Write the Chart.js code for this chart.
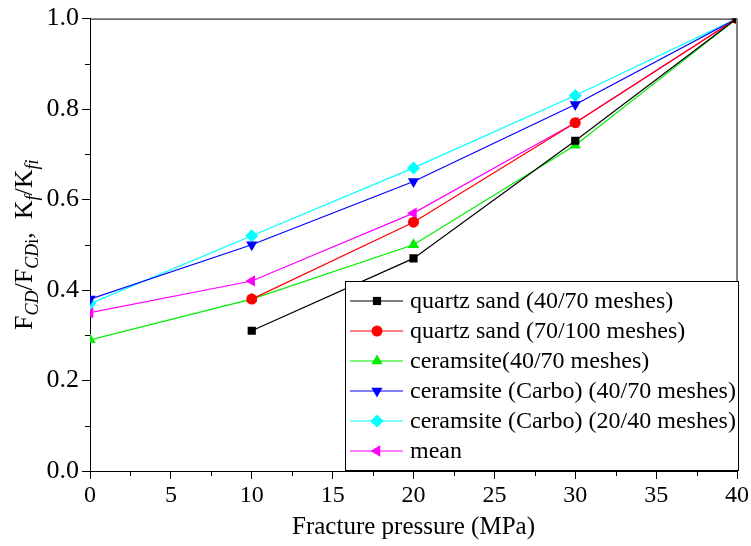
<!DOCTYPE html>
<html>
<head>
<meta charset="utf-8">
<script src="https://cdn.jsdelivr.net/npm/chart.js@4/dist/chart.umd.min.js"></script>
<style>
  body { margin: 0; background: #fff; }
  #wrap { width: 751px; height: 546px; }
</style>
</head>
<body>
<div id="wrap"><canvas id="lineChart" width="751" height="546"></canvas></div>
<script>
const pressures = [0, 10, 20, 30, 40];
const quartz4070 = [null, 0.31, 0.47, 0.73, 1.0];
const quartz70100 = [null, 0.38, 0.55, 0.77, 1.0];
const ceramsite4070 = [0.29, 0.38, 0.50, 0.72, 1.0];
const carbo4070 = [0.38, 0.50, 0.64, 0.81, 1.0];
const carbo2040 = [0.37, 0.52, 0.67, 0.83, 1.0];
const meanVals = [0.35, 0.42, 0.57, 0.77, 1.0];
const seriesNames = [
    'quartz sand (40/70 meshes)',
    'quartz sand (70/100 meshes)',
    'ceramsite(40/70 meshes)',
    'ceramsite (Carbo) (40/70 meshes)',
    'ceramsite (Carbo) (20/40 meshes)',
    'mean'
];

const serif = "'Liberation Serif', 'Times New Roman', serif";

function series(label, values, color, style, rot, radius) {
    return {
        label: label,
        data: values.map((v, i) => ({ x: pressures[i], y: v })),
        borderColor: color,
        backgroundColor: color,
        borderWidth: 1.2,
        pointStyle: style,
        rotation: rot,
        pointRadius: radius,
        pointBorderWidth: 0,
        spanGaps: true,
        tension: 0
    };
}

// frame, minor ticks, y title with subscripts, legend box inside the plot
const extras = {
    id: 'extras',
    afterDraw(chart) {
        const ctx = chart.ctx;
        const a = chart.chartArea;
        const xs = chart.scales.x, ys = chart.scales.y;
        ctx.save();
        ctx.lineWidth = 1;
        ctx.strokeStyle = '#000';
        ctx.beginPath();
        ctx.moveTo(a.left, a.top + 0.5);
        ctx.lineTo(a.right, a.top + 0.5);
        ctx.stroke();
        ctx.strokeStyle = '#808080';
        ctx.lineWidth = 2;
        ctx.beginPath();
        ctx.moveTo(a.right, a.top);
        ctx.lineTo(a.right, a.bottom);
        ctx.stroke();

        ctx.strokeStyle = '#000';
        ctx.lineWidth = 1;
        for (let v = 2.5; v < 40; v += 5) {
            const px = Math.round(xs.getPixelForValue(v)) + 0.5;
            ctx.beginPath();
            ctx.moveTo(px, a.bottom);
            ctx.lineTo(px, a.bottom + 5);
            ctx.stroke();
        }
        for (let v = 0.1; v < 1; v += 0.2) {
            const py = Math.round(ys.getPixelForValue(v)) + 0.5;
            ctx.beginPath();
            ctx.moveTo(a.left, py);
            ctx.lineTo(a.left - 5, py);
            ctx.stroke();
        }

        // y title
        const big = '26px ' + serif;
        const sub = 'italic 18px ' + serif;
        const subUp = '18px ' + serif;
        const parts = [
            ['F', big, 0], ['CD', sub, 6], ['/F', big, 0], ['CD', sub, 6], ['i', subUp, 6],
            [',  K', big, 0], ['f', sub, 6], ['/K', big, 0], ['fi', sub, 6]
        ];
        let total = 0;
        parts.forEach(p => { ctx.font = p[1]; total += ctx.measureText(p[0]).width; });
        ctx.translate(32, (a.top + a.bottom) / 2);
        ctx.rotate(-Math.PI / 2);
        ctx.fillStyle = '#000';
        ctx.textBaseline = 'alphabetic';
        let cx = -total / 2;
        parts.forEach(p => {
            ctx.font = p[1];
            ctx.fillText(p[0], cx, p[2]);
            cx += ctx.measureText(p[0]).width;
        });
        ctx.restore();

        // legend
        ctx.save();
        const bx = 345, by = 281, bw = 393, bh = 189;
        ctx.fillStyle = '#fff';
        ctx.fillRect(bx, by, bw, bh);
        ctx.strokeStyle = '#000';
        ctx.lineWidth = 1;
        ctx.strokeRect(bx + 0.5, by + 0.5, bw, bh);
        ctx.font = '24px ' + serif;
        ctx.textBaseline = 'middle';
        chart.data.datasets.forEach((ds, i) => {
            const ry = by + 20 + i * 30;
            ctx.strokeStyle = ds.borderColor;
            ctx.lineWidth = 1.2;
            ctx.beginPath();
            ctx.moveTo(bx + 5, ry);
            ctx.lineTo(bx + 58, ry);
            ctx.stroke();
            ctx.fillStyle = ds.backgroundColor;
            Chart.helpers.drawPoint(ctx, {
                pointStyle: ds.pointStyle,
                rotation: ds.rotation,
                radius: ds.pointRadius,
                borderWidth: 0
            }, bx + 32, ry);
            ctx.fillStyle = '#000';
            ctx.fillText(ds.label, bx + 65, ry + 1);
        });
        ctx.restore();
    }
};

const lineCtx = document.getElementById('lineChart').getContext('2d');
new Chart(lineCtx, {
    type: 'line',
    data: {
        datasets: [
            series(seriesNames[0], quartz4070, '#000000', 'rect', 0, 5.8),
            series(seriesNames[1], quartz70100, '#ff0000', 'circle', 0, 5.5),
            series(seriesNames[2], ceramsite4070, '#00ee00', 'triangle', 0, 6.5),
            series(seriesNames[3], carbo4070, '#0000ff', 'triangle', 180, 6.5),
            series(seriesNames[4], carbo2040, '#00ffff', 'rectRot', 0, 6.5),
            series(seriesNames[5], meanVals, '#ff00ff', 'triangle', -90, 6.5)
        ]
    },
    options: {
        responsive: false,
        animation: false,
        layout: { padding: { top: 16, right: 11, left: 0, bottom: 0 } },
        plugins: {
            legend: { display: false },
            tooltip: { enabled: false }
        },
        scales: {
            x: {
                type: 'linear',
                min: 0,
                max: 40,
                afterFit(s) { s.height = 75; },
                border: { color: '#000', width: 1 },
                grid: { drawOnChartArea: false, tickLength: 8, color: '#000' },
                ticks: {
                    stepSize: 5,
                    color: '#000',
                    font: { family: serif, size: 24 },
                    padding: 2,
                    maxRotation: 0
                },
                title: {
                    display: true,
                    text: 'Fracture pressure (MPa)',
                    color: '#000',
                    font: { family: serif, size: 25 },
                    padding: { top: 2 }
                }
            },
            y: {
                min: 0,
                max: 1.0,
                afterFit(s) { s.width = 90; },
                border: { color: '#000', width: 1 },
                grid: { drawOnChartArea: false, tickLength: 8, color: '#000' },
                ticks: {
                    stepSize: 0.2,
                    color: '#000',
                    font: { family: serif, size: 26 },
                    padding: 3,
                    callback: v => v.toFixed(1)
                }
            }
        }
    },
    plugins: [extras]
});
</script>
</body>
</html>
